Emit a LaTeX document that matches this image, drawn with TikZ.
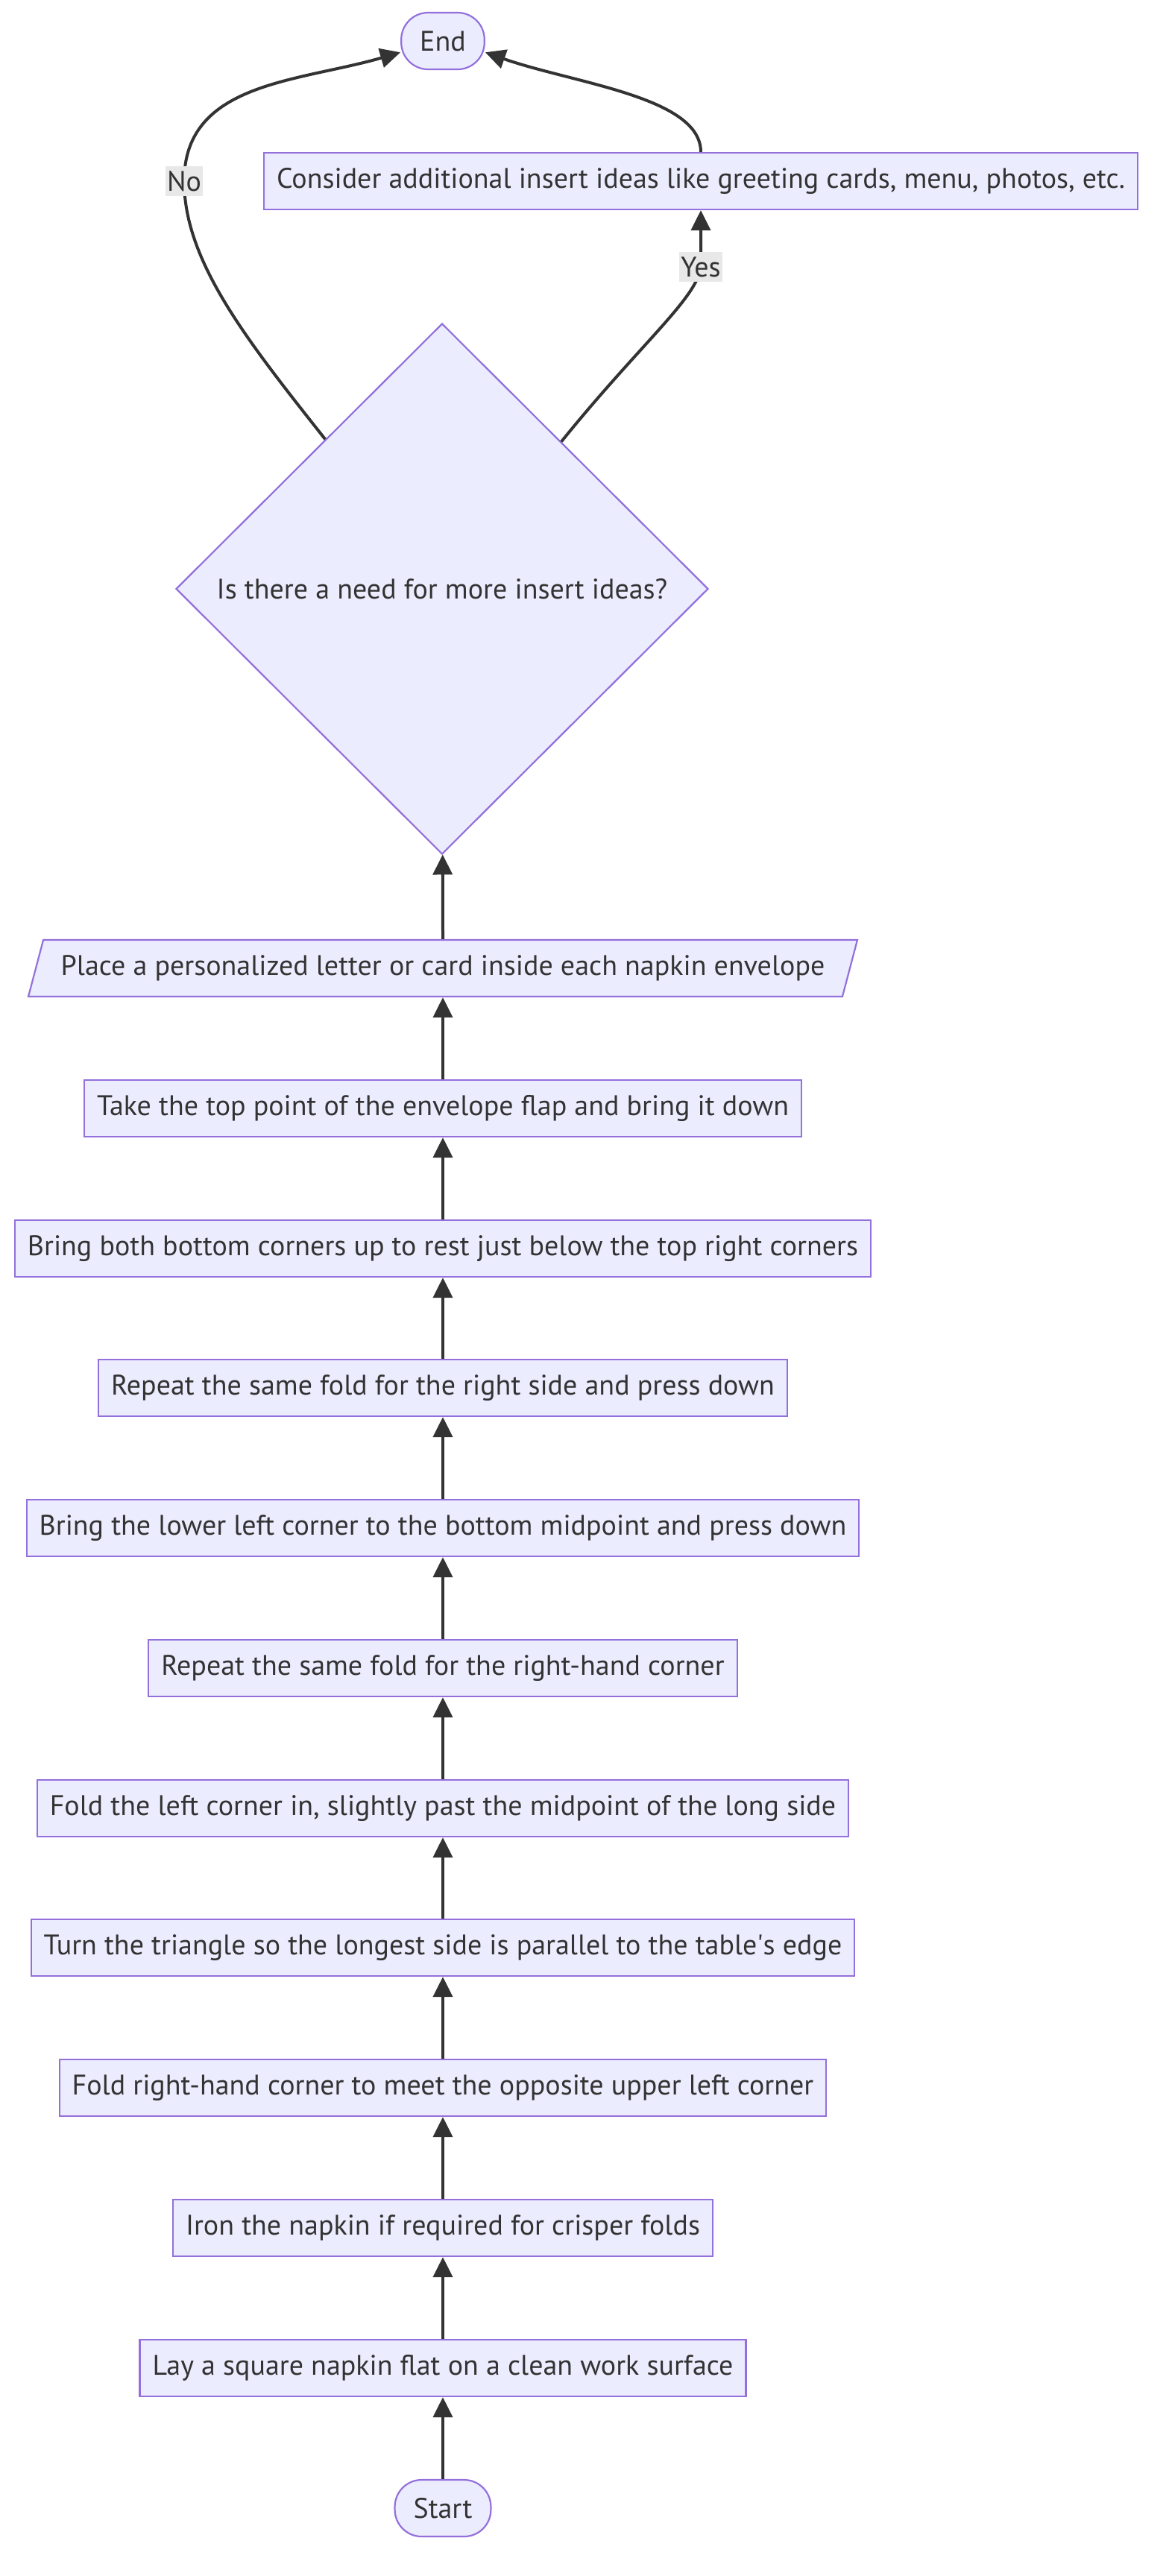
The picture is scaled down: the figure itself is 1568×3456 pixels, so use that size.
\documentclass[tikz,border=0pt]{standalone}
\usepackage{fontspec}
\setmainfont{PT Sans}
\usetikzlibrary{shapes.geometric,arrows.meta}
\definecolor{nodefill}{HTML}{ECECFF}
\definecolor{nodeline}{HTML}{9370DB}
\definecolor{edgeline}{HTML}{333333}
\definecolor{labelfill}{HTML}{E8E8E8}

\begin{document}
\begin{tikzpicture}[x=1pt, y=-1pt,
  every node/.style={font=\fontsize{38}{45}\selectfont, text=edgeline},
  stepbox/.style={draw=nodeline, fill=nodefill, line width=2.2pt, minimum height=76pt, inner xsep=17pt},
  terminal/.style={stepbox, rounded corners=36pt, inner xsep=25pt},
  decision/.style={diamond, aspect=1, draw=nodeline, fill=nodefill, line width=2.2pt,
    minimum width=714pt, minimum height=712pt, inner sep=0pt},
  iobox/.style={trapezium, trapezium left angle=64, trapezium right angle=116,
    trapezium stretches body, draw=nodeline, fill=nodefill, line width=2.2pt,
    minimum width=1112pt, minimum height=76pt, inner xsep=4pt},
  flow/.style={draw=edgeline, line width=4pt, -{Triangle[length=27pt, width=26pt]}},
  edgelabel/.style={fill=labelfill, inner xsep=2pt, inner ysep=0pt, minimum height=40pt}]
  \useasboundingbox (0,0) rectangle (1568,3456);

  % Terminals
  \node[terminal] (stop) at (594,55) {End};
  \node[terminal] (start) at (594,3365) {Start};

  % Decision and extra ideas
  \node[stepbox] (consider) at (940,243) {Consider additional insert ideas like greeting cards, menu, photos, etc.};
  \node[decision] (decide) at (593,790) {Is there a need for more insert ideas?};
  \node[iobox] (place) at (594,1299) {Place a personalized letter or card inside each napkin envelope};

  % Folding steps, bottom to top
  \node[stepbox] (takeflap) at (594,1487) {Take the top point of the envelope flap and bring it down};
  \node[stepbox] (bringboth) at (594,1675) {Bring both bottom corners up to rest just below the top right corners};
  \node[stepbox] (repeatside) at (594,1862) {Repeat the same fold for the right side and press down};
  \node[stepbox] (bringlower) at (594,2050) {Bring the lower left corner to the bottom midpoint and press down};
  \node[stepbox] (repeatcorner) at (594,2238) {Repeat the same fold for the right-hand corner};
  \node[stepbox] (foldleft) at (594,2426) {Fold the left corner in, slightly past the midpoint of the long side};
  \node[stepbox] (turntri) at (594,2613) {Turn the triangle so the longest side is parallel to the table\textquotesingle s edge};
  \node[stepbox] (foldright) at (594,2801) {Fold right-hand corner to meet the opposite upper left corner};
  \node[stepbox] (iron) at (594,2989) {Iron the napkin if required for crisper folds};
  \node[stepbox] (lay) at (594,3177) {Lay a square napkin flat on a clean work surface};

  % Straight arrows up the chain
  \draw[flow] (start) -- (lay);
  \draw[flow] (lay) -- (iron);
  \draw[flow] (iron) -- (foldright);
  \draw[flow] (foldright) -- (turntri);
  \draw[flow] (turntri) -- (foldleft);
  \draw[flow] (foldleft) -- (repeatcorner);
  \draw[flow] (repeatcorner) -- (bringlower);
  \draw[flow] (bringlower) -- (repeatside);
  \draw[flow] (repeatside) -- (bringboth);
  \draw[flow] (bringboth) -- (takeflap);
  \draw[flow] (takeflap) -- (place);
  \draw[flow] (place) -- (decide);

  % Branches to End
  \coordinate (nopt) at (247,243);
  \coordinate (yespt) at (940,358);
  \draw[flow] (decide.128) .. controls (330,455) and (247,350) .. (nopt)
    .. controls (247,110) and (400,110) .. (stop.195);
  \draw[flow] (decide.51) .. controls (860,460) and (935,400) .. (yespt) -- (consider.south);
  \draw[flow] (consider.north) .. controls (940,130) and (770,112) .. (stop.-15);
  \node[edgelabel] (nolbl) at (nopt) {No};
  \node[edgelabel] (yeslbl) at (yespt) {Yes};
\end{tikzpicture}
\end{document}
